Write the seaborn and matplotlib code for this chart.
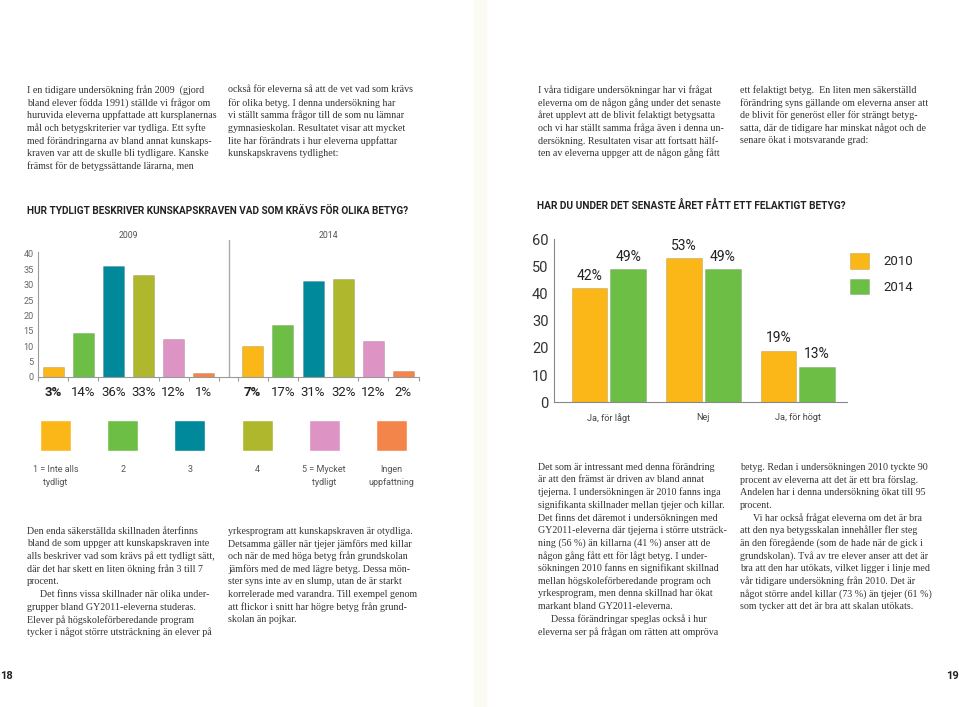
import matplotlib
matplotlib.use("Agg")
import matplotlib.pyplot as plt
from matplotlib.patches import Rectangle
from matplotlib.lines import Line2D
import pandas as pd
import seaborn as sns

W, H = 959, 707

# ---------------------------
# Data: clarity of grading criteria (left chart)
# ---------------------------
scale_labels = ["1 = Inte alls\ntydligt", "2", "3", "4", "5 = Mycket\ntydligt", "Ingen\nuppfattning"]
scale_colors = ["#FBB617", "#6DBE45", "#00899B", "#AFB82C", "#DD93C4", "#F3854A"]
years_1 = ["2009", "2014"]
values_2009 = [3.1, 14.2, 36.1, 33.2, 12.2, 1.2]
values_2014 = [10.0, 16.8, 31.2, 31.7, 11.6, 1.8]
pct_2009 = ["3%", "14%", "36%", "33%", "12%", "1%"]
pct_2014 = ["7%", "17%", "31%", "32%", "12%", "2%"]

# ---------------------------
# Data: wrong grade last year (right chart)
# ---------------------------
answers = ["Ja, för lågt", "Nej", "Ja, för högt"]
years_2 = ["2010", "2014"]
values_2010 = [42, 53, 19]
values_2014_b = [49, 49, 13]
colors_2 = ["#FBB617", "#6DBE45"]

# ---------------------------
# Body text
# ---------------------------
text_top_1 = [
    "I en tidigare undersökning från 2009  (gjord",
    "bland elever födda 1991) ställde vi frågor om",
    "huruvida eleverna uppfattade att kursplanernas",
    "mål och betygskriterier var tydliga. Ett syfte",
    "med förändringarna av bland annat kunskaps-",
    "kraven var att de skulle bli tydligare. Kanske",
    "främst för de betygssättande lärarna, men",
]
text_top_2 = [
    "också för eleverna så att de vet vad som krävs",
    "för olika betyg. I denna undersökning har",
    "vi ställt samma frågor till de som nu lämnar",
    "gymnasieskolan. Resultatet visar att mycket",
    "lite har förändrats i hur eleverna uppfattar",
    "kunskapskravens tydlighet:",
]
text_top_3 = [
    "I våra tidigare undersökningar har vi frågat",
    "eleverna om de någon gång under det senaste",
    "året upplevt att de blivit felaktigt betygsatta",
    "och vi har ställt samma fråga även i denna un-",
    "dersökning. Resultaten visar att fortsatt hälf-",
    "ten av eleverna uppger att de någon gång fått",
]
text_top_4 = [
    "ett felaktigt betyg.  En liten men säkerställd",
    "förändring syns gällande om eleverna anser att",
    "de blivit för generöst eller för strängt betyg-",
    "satta, där de tidigare har minskat något och de",
    "senare ökat i motsvarande grad:",
]
text_bot_1 = [
    "Den enda säkerställda skillnaden återfinns",
    "bland de som uppger att kunskapskraven inte",
    "alls beskriver vad som krävs på ett tydligt sätt,",
    "där det har skett en liten ökning från 3 till 7",
    "procent.",
    "\tDet finns vissa skillnader när olika under-",
    "grupper bland GY2011-eleverna studeras.",
    "Elever på högskoleförberedande program",
    "tycker i något större utsträckning än elever på",
]
text_bot_2 = [
    "yrkesprogram att kunskapskraven är otydliga.",
    "Detsamma gäller när tjejer jämförs med killar",
    "och när de med höga betyg från grundskolan",
    "jämförs med de med lägre betyg. Dessa mön-",
    "ster syns inte av en slump, utan de är starkt",
    "korrelerade med varandra. Till exempel genom",
    "att flickor i snitt har högre betyg från grund-",
    "skolan än pojkar.",
]
text_bot_3 = [
    "Det som är intressant med denna förändring",
    "är att den främst är driven av bland annat",
    "tjejerna. I undersökningen är 2010 fanns inga",
    "signifikanta skillnader mellan tjejer och killar.",
    "Det finns det däremot i undersökningen med",
    "GY2011-eleverna där tjejerna i större utsträck-",
    "ning (56 %) än killarna (41 %) anser att de",
    "någon gång fått ett för lågt betyg. I under-",
    "sökningen 2010 fanns en signifikant skillnad",
    "mellan högskoleförberedande program och",
    "yrkesprogram, men denna skillnad har ökat",
    "markant bland GY2011-eleverna.",
    "\tDessa förändringar speglas också i hur",
    "eleverna ser på frågan om rätten att ompröva",
]
text_bot_4 = [
    "betyg. Redan i undersökningen 2010 tyckte 90",
    "procent av eleverna att det är ett bra förslag.",
    "Andelen har i denna undersökning ökat till 95",
    "procent.",
    "\tVi har också frågat eleverna om det är bra",
    "att den nya betygsskalan innehåller fler steg",
    "än den föregående (som de hade när de gick i",
    "grundskolan). Två av tre elever anser att det är",
    "bra att den har utökats, vilket ligger i linje med",
    "vår tidigare undersökning från 2010. Det är",
    "något större andel killar (73 %) än tjejer (61 %)",
    "som tycker att det är bra att skalan utökats.",
]

sns.set_style("white")
plt.rcParams["font.family"] = ["Roboto", "DejaVu Sans"]


def fx(x):
    return x / W


def fy(y):
    return 1 - y / H


def box(x0, y0, x1, y1):
    return [x0 / W, 1 - y1 / H, (x1 - x0) / W, (y1 - y0) / H]


fig = plt.figure(figsize=(9.59, 7.07), dpi=100)

# gutter between the pages
fig.patches.append(Rectangle((fx(474), 0), fx(12), 1, transform=fig.transFigure,
                             color="#FBFBF4", zorder=0))
fig.lines.append(Line2D([fx(480.5)] * 2, [0, 1], transform=fig.transFigure,
                        color="#F1F1E6", lw=1.2, zorder=0))


def column(x, y, lines, pitch=12.67):
    for i, line in enumerate(lines):
        dx = 13 if line.startswith("\t") else 0
        fig.text(fx(x + dx), fy(y + i * pitch), line.lstrip("\t"),
                 family="Liberation Serif", fontsize=7.2, color="#333333",
                 ha="left", va="center")


column(27, 90, text_top_1)
column(228, 90, text_top_2)
column(538, 90, text_top_3)
column(740, 90, text_top_4)
column(27, 531, text_bot_1)
column(228, 531, text_bot_2)
column(538, 467, text_bot_3)
column(740, 467, text_bot_4)

# ---------------------------
# Left chart
# ---------------------------
df1 = pd.DataFrame({
    "year": [y for y in years_1 for _ in scale_labels],
    "answer": scale_labels * 2,
    "value": values_2009 + values_2014,
})
ax1 = fig.add_axes(box(38, 252, 419, 377))
sns.barplot(df1, x="year", y="value", hue="answer", hue_order=scale_labels,
            palette=scale_colors, saturation=1, width=0.905, gap=0.3,
            edgecolor=(0, 0, 0, 0.15), linewidth=0.6, legend=False, ax=ax1)
ax1.set_xlim(-0.45, 1.455)
ax1.set_ylim(0, 40.6)
ax1.set_yticks(range(0, 41, 5))
ax1.set_xlabel("")
ax1.set_ylabel("")
for s in ["top", "right"]:
    ax1.spines[s].set_visible(False)
for s in ["left", "bottom"]:
    ax1.spines[s].set_color("#9A9A9A")
    ax1.spines[s].set_linewidth(0.8)
ax1.tick_params(axis="y", direction="in", length=3, width=0.8, color="#9A9A9A",
                labelsize=6.6, labelcolor="#666666", pad=3)
ax1.tick_params(axis="x", which="major", length=0, labelbottom=False, labeltop=True,
                labelsize=6.3, labelcolor="#555555", pad=9)

pct = [pct_2009, pct_2014]
edges = set()
for ci, cont in enumerate(ax1.containers):
    for yi, bar in enumerate(cont):
        xc = bar.get_x() + bar.get_width() / 2
        slot = bar.get_width() / 0.7
        edges.update([round(xc - slot / 2, 4), round(xc + slot / 2, 4)])
        ax1.annotate(pct[yi][ci], xy=(xc, 0), xycoords=("data", "axes fraction"),
                     xytext=(0, -11), textcoords="offset points",
                     ha="center", va="center", fontsize=9.5, color="#222222",
                     fontweight="bold" if ci == 0 else "normal")
ax1.set_xticks(sorted(edges), minor=True)
ax1.tick_params(axis="x", which="minor", length=3, width=0.8, color="#9A9A9A",
                bottom=True, top=False)
ax1.axvline(0.505, ymin=0, ymax=(377 - 240) / 125, color="#AAAAAA", lw=1, clip_on=False)

fig.text(fx(27), fy(211), "HUR TYDLIGT BESKRIVER KUNSKAPSKRAVEN VAD SOM KRÄVS FÖR OLIKA BETYG?",
         fontsize=7.2, fontweight="bold", color="#222222", ha="left", va="center")

# legend squares below left chart
ax3 = fig.add_axes(box(22, 420, 425, 451))
sns.barplot(x=scale_labels, y=[1] * len(scale_labels), hue=scale_labels,
            palette=scale_colors, saturation=1, width=0.46, legend=False, ax=ax3)
ax3.set_xlim(-0.5, len(scale_labels) - 0.5)
ax3.set_ylim(0, 1)
ax3.set_yticks([])
ax3.tick_params(axis="x", length=0, labelsize=6.5, labelcolor="#555555", pad=10)
for lab in ax3.get_xticklabels():
    lab.set_linespacing(1.55)
sns.despine(ax=ax3, left=True, bottom=True)

# ---------------------------
# Right chart
# ---------------------------
df2 = pd.DataFrame({
    "answer": answers * 2,
    "year": [y for y in years_2 for _ in answers],
    "value": values_2010 + values_2014_b,
})
ax2 = fig.add_axes(box(554, 239.3, 847, 402.3))
sns.barplot(df2, x="answer", y="value", hue="year", palette=colors_2, saturation=1,
            width=0.82, gap=0.08, edgecolor=(0, 0, 0, 0.15), linewidth=0.6, ax=ax2)
ax2.set_xlim(-0.58, 2.52)
ax2.set_ylim(0, 60)
ax2.set_yticks(range(0, 61, 10))
ax2.set_xlabel("")
ax2.set_ylabel("")
for s in ["top", "right"]:
    ax2.spines[s].set_visible(False)
for s in ["left", "bottom"]:
    ax2.spines[s].set_color("#888888")
    ax2.spines[s].set_linewidth(0.8)
ax2.tick_params(axis="y", direction="in", length=5, width=0.8, color="#888888",
                labelsize=10.5, labelcolor="#333333", pad=4)
ax2.tick_params(axis="x", length=0, labelsize=6.6, labelcolor="#444444", pad=8)
for cont, vals in zip(ax2.containers, [values_2010, values_2014_b]):
    ax2.bar_label(cont, labels=[f"{v}%" for v in vals], padding=4,
                  fontsize=10, color="#222222")
handles, labels = ax2.get_legend_handles_labels()
ax2.legend(handles, labels, loc="upper left", bbox_to_anchor=(fx(850), fy(253)),
           bbox_transform=fig.transFigure, frameon=False, fontsize=9.5,
           handlelength=1.45, handleheight=1.45, handletextpad=1.1,
           labelspacing=0.75, borderpad=0, borderaxespad=0)

fig.text(fx(537), fy(205), "HAR DU UNDER DET SENASTE ÅRET FÅTT ETT FELAKTIGT BETYG?",
         fontsize=7.3, fontweight="bold", color="#222222", ha="left", va="center")

# page numbers
fig.text(fx(0.5), fy(676), "18", fontsize=8, fontweight="bold", color="#222222",
         ha="left", va="center")
fig.text(fx(958.5), fy(676), "19", fontsize=8, fontweight="bold", color="#222222",
         ha="right", va="center")

fig.savefig("out.png", dpi=100)
